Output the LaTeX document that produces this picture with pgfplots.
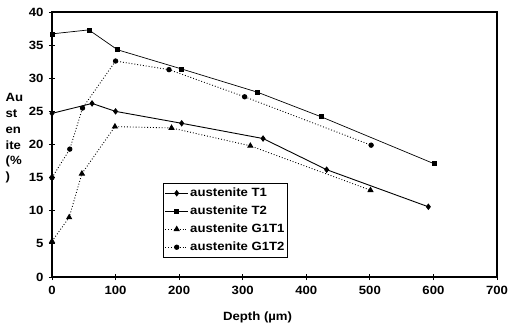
\documentclass[border=0pt]{standalone}
\usepackage{fontspec}
\setmainfont{Liberation Sans}[FakeStretch=1.1]
\usepackage{pgfplots}
\pgfplotsset{compat=1.18}

\begin{document}
\begin{tikzpicture}[x=1bp,y=1bp]
% page frame: 509 x 328 bp, axis box lower-left at the origin
\useasboundingbox (-52,-51) rectangle (457,277);
\begin{axis}[
  scale only axis,
  width=445bp, height=265bp,
  xmin=0, xmax=700, ymin=0, ymax=40,
  xtick={0,100,...,700}, ytick={0,5,...,40},
  xtick pos=bottom, ytick pos=left,
  tick align=center,
  major tick length=6bp,
  tick style={black, line width=0.8pt},
  axis line style={black, line width=1.1pt},
  /pgf/number format/assume math mode=true,
  tick label style={font=\fontsize{12}{14}\selectfont\bfseries},
  xticklabel style={yshift=-3bp},
  yticklabel style={xshift=-2bp},
  xlabel={Depth (µm)},
  ylabel={\bfseries Au\\\bfseries st\\\bfseries en\\\bfseries ite\\\bfseries (\%\\\bfseries )},
  every axis x label/.style={at={(axis description cs:0.462,-0.151)}, anchor=center,
    font=\fontsize{12}{14}\selectfont\bfseries},
  every axis y label/.style={at={(axis description cs:-0.112,0.523)}, anchor=west,
    align=left, font=\fontsize{12}{15.8}\selectfont\bfseries},
  legend style={at={(axis description cs:0.249,0.355)}, anchor=north west,
    draw=black, line width=0.9pt, fill=white,
    font=\fontsize{12}{13}\selectfont\bfseries,
    inner xsep=1.5bp, inner ysep=2.5bp, row sep=3.3bp,
    nodes={inner xsep=1.6bp, inner ysep=1.6bp, text height=9bp, text depth=2.5bp}},
  legend cell align=left,
  legend image code/.code={\draw[mark repeat=2,mark phase=2]
    plot coordinates {(0bp,0bp) (11.5bp,0bp) (23bp,0bp)};},
]
% austenite T1
\addplot[black, line width=0.9pt, mark=diamond*, mark size=2.6bp,
  mark options={solid}] coordinates {
  (0,24.7) (63,26.2) (100,25.0) (204,23.2) (332,20.9) (432,16.2) (592,10.6)};
\addlegendentry{austenite T1}
% austenite T2
\addplot[black, line width=0.7pt, mark=square*, mark size=2.0bp,
  mark options={solid}] coordinates {
  (0,36.7) (58,37.3) (103,34.3) (204,31.4) (323,27.9) (423,24.2) (601,17.1)};
\addlegendentry{austenite T2}
% austenite G1T1
\addplot[black, line width=0.9pt, dotted, mark=triangle*, mark size=2.8bp,
  mark options={solid}] coordinates {
  (0,5.4) (27,9.0) (47,15.6) (99,22.7) (188,22.5) (312,19.8) (501,13.1)};
\addlegendentry{austenite G1T1}
% austenite G1T2
\addplot[black, line width=0.9pt, dotted, mark=*, mark size=2.2bp,
  mark options={solid}] coordinates {
  (0,15.0) (28,19.3) (48,25.5) (100,32.6) (184,31.3) (303,27.2) (502,19.9)};
\addlegendentry{austenite G1T2}
\end{axis}
\end{tikzpicture}
\end{document}
